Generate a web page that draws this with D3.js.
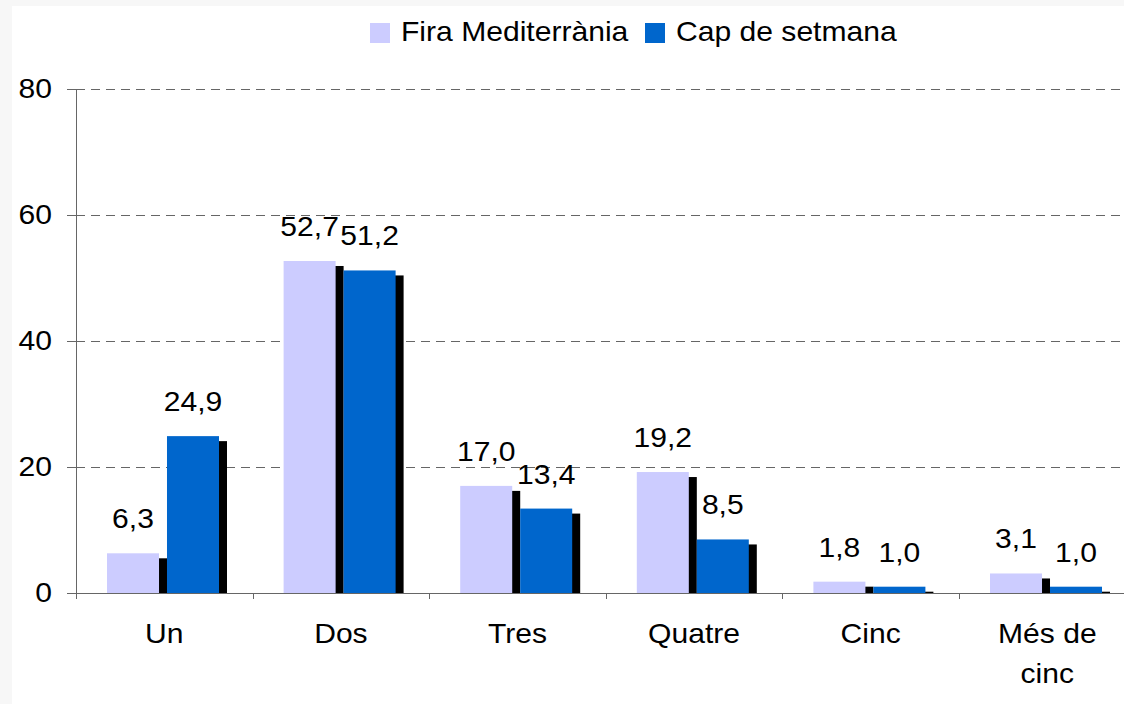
<!DOCTYPE html>
<html>
<head>
<meta charset="utf-8">
<script src="https://cdn.jsdelivr.net/npm/d3@7"></script>
<style>
  body { margin: 0; background: #f7f7f7; }
  svg { display: block; font-family: "Liberation Sans", Arial, sans-serif; }
</style>
</head>
<body>
<div id="chart"></div>
<script>
// chart data
const categories = ["Un", "Dos", "Tres", "Quatre", "Cinc", "Més de cinc"];
const seriesNames = ["Fira Mediterrània", "Cap de setmana"];
const firaValues = [6.3, 52.7, 17.0, 19.2, 1.8, 3.1];
const capValues = [24.9, 51.2, 13.4, 8.5, 1.0, 1.0];
const yTicks = [0, 20, 40, 60, 80];
const colors = ["#ccccff", "#0066cc"];

const width = 1124, height = 704;
const plotLeft = 76, bandStep = 176.6, plotTop = 89, plotBottom = 593;
const stretch = 1.075; // the original text is a little wider than it is tall

const svg = d3.select("#chart").append("svg")
    .attr("width", width)
    .attr("height", height);

// place a text at (x, y) with the horizontal stretch
function place(sel, fx, fy) {
  sel.attr("x", 0).attr("y", 0)
     .attr("transform", (d, i) => `translate(${fx(d, i)},${fy(d, i)}) scale(${stretch},1)`)
     .style("font-size", "28px");
}

// white panel over the light gray page
svg.append("rect")
    .attr("x", 12).attr("y", 6)
    .attr("width", width - 12).attr("height", height - 6)
    .attr("fill", "#fff");

const x0 = d3.scaleBand()
    .domain(categories)
    .range([plotLeft, plotLeft + bandStep * categories.length])
    .paddingInner(0).paddingOuter(0);

const x1 = d3.scaleBand()
    .domain(seriesNames)
    .range([31, 143])
    .paddingInner(0.133);

const y = d3.scaleLinear()
    .domain([0, 80])
    .range([plotBottom, plotTop]);

const fmt = d3.formatLocale({decimal: ",", thousands: ".", grouping: [3], currency: ["", ""]}).format(".1f");

// dashed gridlines
svg.append("g")
  .selectAll("line")
  .data(yTicks.filter(d => d > 0))
  .join("line")
    .attr("x1", plotLeft).attr("x2", width)
    .attr("y1", d => Math.round(y(d)) + 0.5).attr("y2", d => Math.round(y(d)) + 0.5)
    .attr("stroke", "#666")
    .attr("stroke-dasharray", "9,6");

// bars with black drop shadows
const rows = categories.map((c, i) => ({
  cat: c,
  vals: [firaValues[i], capValues[i]]
}));

const groups = svg.append("g")
  .selectAll("g")
  .data(rows)
  .join("g")
    .attr("transform", d => `translate(${x0(d.cat)},0)`);

seriesNames.forEach((s, si) => {
  groups.append("rect")
      .attr("x", x1(s) + 8)
      .attr("y", d => y(d.vals[si]) + 5)
      .attr("width", x1.bandwidth())
      .attr("height", d => Math.max(0, y(0) - y(d.vals[si]) - 5))
      .attr("fill", "#000");
  groups.append("rect")
      .attr("x", x1(s))
      .attr("y", d => y(d.vals[si]))
      .attr("width", x1.bandwidth())
      .attr("height", d => y(0) - y(d.vals[si]))
      .attr("fill", colors[si]);
});

// value labels
seriesNames.forEach((s, si) => {
  groups.append("text")
      .attr("text-anchor", "middle")
      .text(d => fmt(d.vals[si]))
      .call(place, () => x1(s) + x1.bandwidth() / 2, d => y(d.vals[si]) - 25);
});

// y axis
const yAxis = svg.append("g")
    .attr("transform", `translate(${plotLeft},0)`)
    .call(d3.axisLeft(y).tickValues(yTicks).tickSize(9).tickPadding(15).tickFormat(d3.format("d")));
yAxis.select(".domain").attr("stroke", "#666");
yAxis.selectAll(".tick line").attr("stroke", "#666");
yAxis.selectAll("text")
    .attr("fill", "#000")
    .attr("dy", "0.3em")
    .style("font-family", "'Liberation Sans', Arial, sans-serif")
    .call(place, () => -24, () => 0);

// x axis line and boundary ticks
svg.append("line")
    .attr("x1", plotLeft).attr("x2", width)
    .attr("y1", plotBottom + 0.5).attr("y2", plotBottom + 0.5)
    .attr("stroke", "#666");
svg.append("g")
  .selectAll("line")
  .data(categories.map(c => x0(c)).concat([x0.range()[1]]))
  .join("line")
    .attr("x1", d => Math.round(d) + 0.5).attr("x2", d => Math.round(d) + 0.5)
    .attr("y1", plotBottom).attr("y2", plotBottom + 6)
    .attr("stroke", "#666");

// category labels, long one wrapped
const catLines = categories.map(c => c === "Més de cinc" ? ["Més de", "cinc"] : [c]);
const xLabels = svg.append("g")
  .selectAll("text")
  .data(categories)
  .join("text")
    .attr("text-anchor", "middle")
    .call(place, d => x0(d) + x0.bandwidth() / 2, () => 643);
xLabels.selectAll("tspan")
  .data((d, i) => catLines[i])
  .join("tspan")
    .attr("x", 0)
    .attr("dy", (d, i) => i === 0 ? 0 : 40)
    .text(d => d);

// legend
const legend = svg.append("g");
const legendX = [370, 645];
seriesNames.forEach((s, i) => {
  legend.append("rect")
      .attr("x", legendX[i]).attr("y", 23)
      .attr("width", 20).attr("height", 20)
      .attr("fill", colors[i]);
  legend.append("text")
      .text(s)
      .call(place, () => legendX[i] + 31, () => 41);
});
</script>
</body>
</html>
